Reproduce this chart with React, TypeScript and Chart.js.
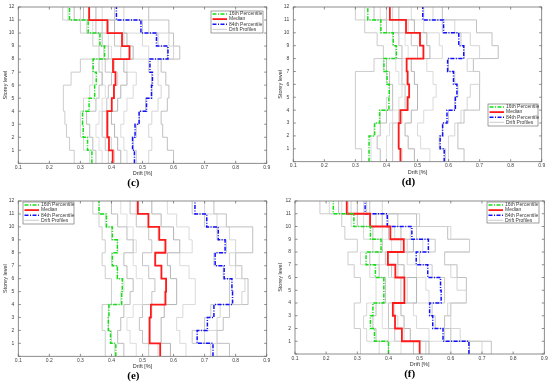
import React, { useEffect, useRef } from 'react';
import { Chart, registerables } from 'chart.js';

Chart.register(...registerables);
Chart.defaults.font.family = '"Liberation Sans", Arial, sans-serif';

// ---------- data ----------
const levels = [0, 1, 2, 3, 4, 5, 6, 7, 8, 9, 10, 11, 12];
const yTickLabels = ['', '1', '2', '3', '4', '5', '6', '7', '8', '9', '10', '11', '12'];
const seriesNames = ['16th Percentile', 'Median', '84th Percentile', 'Drift Profiles'];
const panelLabels = ['(c)', '(d)', '(e)', '(f)'];
const xAxisTitle = 'Drift [%]';
const yAxisTitle = 'Storey level';

// values listed from storey 1 (bottom) to storey 12 (top)
const c16 = [0.337, 0.323, 0.309, 0.307, 0.328, 0.346, 0.351, 0.341, 0.378, 0.363, 0.325, 0.265];
const c50 = [0.404, 0.392, 0.387, 0.386, 0.401, 0.408, 0.413, 0.405, 0.458, 0.434, 0.387, 0.328];
const c84 = [0.474, 0.468, 0.476, 0.489, 0.513, 0.529, 0.532, 0.524, 0.582, 0.545, 0.495, 0.416];
const cProfiles = [
  [0.28, 0.265, 0.255, 0.25, 0.245, 0.245, 0.27, 0.30, 0.36, 0.34, 0.30, 0.243],
  [0.33, 0.31, 0.30, 0.30, 0.31, 0.33, 0.34, 0.34, 0.375, 0.36, 0.32, 0.26],
  [0.35, 0.34, 0.33, 0.32, 0.35, 0.36, 0.37, 0.36, 0.39, 0.37, 0.35, 0.28],
  [0.37, 0.36, 0.35, 0.36, 0.37, 0.38, 0.37, 0.37, 0.40, 0.39, 0.34, 0.30],
  [0.39, 0.38, 0.37, 0.37, 0.385, 0.39, 0.40, 0.38, 0.43, 0.41, 0.37, 0.31],
  [0.41, 0.40, 0.39, 0.39, 0.40, 0.41, 0.42, 0.41, 0.46, 0.44, 0.39, 0.33],
  [0.43, 0.42, 0.41, 0.40, 0.42, 0.43, 0.45, 0.44, 0.47, 0.45, 0.41, 0.35],
  [0.45, 0.44, 0.43, 0.44, 0.45, 0.47, 0.48, 0.45, 0.52, 0.50, 0.44, 0.37],
  [0.48, 0.47, 0.48, 0.49, 0.51, 0.53, 0.53, 0.52, 0.58, 0.55, 0.50, 0.41],
  [0.52, 0.53, 0.52, 0.53, 0.55, 0.56, 0.55, 0.55, 0.60, 0.585, 0.52, 0.44],
  [0.60, 0.58, 0.565, 0.56, 0.58, 0.585, 0.575, 0.56, 0.62, 0.60, 0.585, 0.52],
];

const d16 = [0.344, 0.344, 0.362, 0.378, 0.408, 0.409, 0.402, 0.392, 0.432, 0.422, 0.382, 0.34];
const d50 = [0.445, 0.438, 0.44, 0.445, 0.468, 0.473, 0.468, 0.465, 0.519, 0.508, 0.463, 0.411];
const d84 = [0.586, 0.573, 0.581, 0.595, 0.622, 0.627, 0.616, 0.597, 0.649, 0.633, 0.584, 0.517];
const dProfiles = [
  [0.32, 0.30, 0.30, 0.30, 0.30, 0.30, 0.30, 0.36, 0.39, 0.37, 0.33, 0.30],
  [0.35, 0.35, 0.36, 0.38, 0.40, 0.41, 0.40, 0.39, 0.43, 0.42, 0.38, 0.33],
  [0.38, 0.37, 0.38, 0.40, 0.42, 0.42, 0.41, 0.40, 0.45, 0.44, 0.40, 0.36],
  [0.40, 0.40, 0.41, 0.42, 0.44, 0.45, 0.44, 0.43, 0.47, 0.46, 0.42, 0.38],
  [0.42, 0.42, 0.42, 0.44, 0.46, 0.46, 0.45, 0.45, 0.50, 0.48, 0.44, 0.40],
  [0.45, 0.44, 0.44, 0.45, 0.47, 0.475, 0.47, 0.465, 0.52, 0.51, 0.47, 0.42],
  [0.49, 0.47, 0.46, 0.48, 0.50, 0.50, 0.49, 0.48, 0.54, 0.53, 0.49, 0.44],
  [0.54, 0.51, 0.50, 0.52, 0.55, 0.56, 0.55, 0.53, 0.58, 0.57, 0.52, 0.48],
  [0.59, 0.57, 0.58, 0.60, 0.62, 0.63, 0.62, 0.60, 0.65, 0.64, 0.58, 0.52],
  [0.60, 0.60, 0.62, 0.64, 0.66, 0.67, 0.70, 0.66, 0.70, 0.67, 0.62, 0.55],
  [0.65, 0.63, 0.63, 0.65, 0.70, 0.70, 0.70, 0.68, 0.76, 0.74, 0.69, 0.58],
];

const e16 = [0.414, 0.397, 0.39, 0.392, 0.433, 0.435, 0.419, 0.403, 0.419, 0.403, 0.384, 0.36];
const e50 = [0.557, 0.523, 0.523, 0.527, 0.574, 0.576, 0.561, 0.541, 0.574, 0.554, 0.519, 0.485];
const e84 = [0.727, 0.676, 0.709, 0.73, 0.79, 0.788, 0.763, 0.734, 0.766, 0.744, 0.707, 0.669];
const eProfiles = [
  [0.38, 0.38, 0.37, 0.37, 0.40, 0.40, 0.38, 0.37, 0.38, 0.37, 0.36, 0.34],
  [0.41, 0.40, 0.39, 0.39, 0.43, 0.44, 0.42, 0.40, 0.42, 0.40, 0.38, 0.36],
  [0.44, 0.42, 0.43, 0.44, 0.46, 0.47, 0.45, 0.44, 0.47, 0.45, 0.42, 0.40],
  [0.48, 0.46, 0.45, 0.47, 0.50, 0.50, 0.48, 0.47, 0.48, 0.47, 0.45, 0.43],
  [0.52, 0.50, 0.49, 0.50, 0.53, 0.54, 0.52, 0.50, 0.53, 0.52, 0.48, 0.46],
  [0.55, 0.52, 0.52, 0.53, 0.57, 0.575, 0.56, 0.54, 0.57, 0.55, 0.52, 0.48],
  [0.59, 0.56, 0.56, 0.57, 0.61, 0.61, 0.59, 0.58, 0.62, 0.60, 0.56, 0.53],
  [0.64, 0.62, 0.61, 0.63, 0.67, 0.67, 0.65, 0.62, 0.66, 0.65, 0.61, 0.58],
  [0.72, 0.66, 0.70, 0.72, 0.78, 0.78, 0.76, 0.73, 0.77, 0.74, 0.70, 0.66],
  [0.74, 0.70, 0.74, 0.75, 0.82, 0.83, 0.80, 0.78, 0.80, 0.78, 0.74, 0.70],
  [0.78, 0.74, 0.76, 0.78, 0.84, 0.84, 0.82, 0.80, 0.855, 0.855, 0.77, 0.73],
];

const f16 = [0.40, 0.355, 0.342, 0.35, 0.385, 0.385, 0.358, 0.328, 0.376, 0.342, 0.289, 0.223];
const f50 = [0.50, 0.443, 0.421, 0.414, 0.451, 0.451, 0.422, 0.398, 0.449, 0.406, 0.341, 0.266];
const f84 = [0.658, 0.575, 0.542, 0.532, 0.569, 0.567, 0.526, 0.489, 0.528, 0.475, 0.396, 0.325];
const fProfiles = [
  [0.31, 0.31, 0.29, 0.29, 0.31, 0.31, 0.29, 0.27, 0.30, 0.26, 0.25, 0.18],
  [0.37, 0.33, 0.32, 0.33, 0.36, 0.36, 0.34, 0.31, 0.35, 0.32, 0.28, 0.21],
  [0.40, 0.36, 0.35, 0.36, 0.39, 0.39, 0.37, 0.34, 0.38, 0.35, 0.30, 0.24],
  [0.44, 0.40, 0.38, 0.38, 0.42, 0.42, 0.40, 0.37, 0.41, 0.38, 0.32, 0.25],
  [0.48, 0.42, 0.40, 0.40, 0.44, 0.44, 0.41, 0.39, 0.44, 0.40, 0.34, 0.27],
  [0.52, 0.45, 0.43, 0.42, 0.46, 0.46, 0.43, 0.40, 0.46, 0.42, 0.36, 0.28],
  [0.53, 0.47, 0.45, 0.44, 0.49, 0.49, 0.45, 0.43, 0.48, 0.44, 0.38, 0.30],
  [0.60, 0.53, 0.49, 0.48, 0.53, 0.52, 0.49, 0.46, 0.51, 0.47, 0.40, 0.32],
  [0.66, 0.58, 0.55, 0.54, 0.58, 0.58, 0.54, 0.50, 0.55, 0.49, 0.43, 0.34],
  [0.70, 0.63, 0.60, 0.59, 0.65, 0.62, 0.60, 0.58, 0.66, 0.60, 0.50, 0.38],
  [0.73, 0.60, 0.58, 0.60, 0.65, 0.65, 0.62, 0.58, 0.66, 0.59, 0.49, 0.33],
];

// ---------- layout / style ----------
const W = 275;
const H = 194;
const grayShades = ['#c6c6c6', '#d4d4d4', '#b6b6b6', '#dadada', '#bdbdbd', '#cecece', '#adadad', '#d6d6d6', '#c1c1c1', '#d0d0d0', '#b9b9b9'];

const panels = [
  { label: panelLabels[0], p16: c16, p50: c50, p84: c84, gray: cProfiles, x: 0, y: 0,
    area: { l: 18.3, r: 266.7, t: 5.7, b: 163.3 }, titleY: 183, legend: { x: 211, y: 11, w: 52, h: 22 } },
  { label: panelLabels[1], p16: d16, p50: d50, p84: d84, gray: dProfiles, x: 275, y: 0,
    area: { l: 18.3, r: 266.7, t: 5.7, b: 161.7 }, titleY: 182, legend: { x: 213, y: 104, w: 50, h: 22 } },
  { label: panelLabels[2], p16: e16, p50: e50, p84: e84, gray: eProfiles, x: 0, y: 194,
    area: { l: 18.3, r: 266.7, t: 3.3, b: 162.3 }, titleY: 182, legend: { x: 23, y: 8, w: 51, h: 22 } },
  { label: panelLabels[3], p16: f16, p50: f50, p84: f84, gray: fProfiles, x: 275, y: 194,
    area: { l: 20, r: 269.3, t: 3.3, b: 160 }, titleY: 180, legend: { x: 212, y: 8, w: 52, h: 21 } },
];

function steps(vals: number[]) {
  const pts: { x: number; y: number }[] = [];
  vals.forEach((v, i) => {
    pts.push({ x: v, y: levels[i] }, { x: v, y: levels[i + 1] });
  });
  return pts;
}

function makeFramePlugin(legendBox: { x: number; y: number; w: number; h: number }) {
  return {
    id: 'matlabFrame',
    afterDatasetsDraw(chart: any) {
      const { ctx, chartArea: a, scales } = chart;
      ctx.save();
      ctx.strokeStyle = '#707070';
      ctx.lineWidth = 0.8;
      ctx.setLineDash([]);
      ctx.strokeRect(a.left, a.top, a.right - a.left, a.bottom - a.top);
      const tl = 2.5;
      ctx.beginPath();
      scales.x.ticks.forEach((t: any) => {
        const px = scales.x.getPixelForValue(t.value);
        ctx.moveTo(px, a.bottom);
        ctx.lineTo(px, a.bottom - tl);
        ctx.moveTo(px, a.top);
        ctx.lineTo(px, a.top + tl);
      });
      scales.y.ticks.forEach((t: any) => {
        const py = scales.y.getPixelForValue(t.value);
        ctx.moveTo(a.left, py);
        ctx.lineTo(a.left + tl, py);
        ctx.moveTo(a.right, py);
        ctx.lineTo(a.right - tl, py);
      });
      ctx.stroke();
      ctx.restore();
    },
    afterDraw(chart: any) {
      const { ctx } = chart;
      const ds = chart.data.datasets;
      const b = legendBox;
      ctx.save();
      ctx.fillStyle = '#ffffff';
      ctx.fillRect(b.x, b.y, b.w, b.h);
      ctx.strokeStyle = '#606060';
      ctx.lineWidth = 0.6;
      ctx.setLineDash([]);
      ctx.strokeRect(b.x, b.y, b.w, b.h);
      ctx.font = '5px "Liberation Sans", Arial, sans-serif';
      ctx.textBaseline = 'middle';
      ctx.textAlign = 'left';
      for (let k = 0; k < 4; k++) {
        const d = ds[k];
        const yy = b.y + 3 + k * 5.1;
        ctx.beginPath();
        ctx.strokeStyle = d.borderColor;
        ctx.lineWidth = d.borderWidth;
        ctx.setLineDash(d.borderDash || []);
        ctx.moveTo(b.x + 1.5, yy);
        ctx.lineTo(b.x + 16, yy);
        ctx.stroke();
        ctx.fillStyle = '#3a3a3a';
        ctx.fillText(d.label, b.x + 18, yy);
      }
      ctx.restore();
    },
  };
}

function Panel({ spec }: { spec: any }) {
  const ref = useRef<HTMLCanvasElement | null>(null);
  useEffect(() => {
    if (!ref.current) return;
    const pb = H - spec.titleY - 5.5;
    const xh = H - pb - 11 - spec.area.b;
    const datasets: any[] = [
      { label: seriesNames[0], data: steps(spec.p16), borderColor: '#12e012', borderWidth: 1.5, borderDash: [4, 1.5, 1, 1.5] },
      { label: seriesNames[1], data: steps(spec.p50), borderColor: '#ff1a1a', borderWidth: 1.8 },
      { label: seriesNames[2], data: steps(spec.p84), borderColor: '#1010ff', borderWidth: 1.5, borderDash: [4, 1.5, 1, 1.5] },
      ...spec.gray.map((g: number[], i: number) => ({
        label: seriesNames[3], data: steps(g), borderColor: grayShades[i % grayShades.length], borderWidth: 0.9,
      })),
    ].map((d) => ({ ...d, pointRadius: 0, fill: false, tension: 0 }));

    const chart = new Chart(ref.current, {
      type: 'line',
      data: { datasets },
      options: {
        responsive: false,
        animation: false,
        events: [],
        layout: { padding: { top: spec.area.t, right: W - spec.area.r, bottom: pb, left: 0 } },
        plugins: {
          legend: { display: false },
          tooltip: { enabled: false },
          title: {
            display: true,
            text: spec.label,
            position: 'bottom',
            padding: 0,
            color: '#000',
            font: { family: '"Liberation Serif", "DejaVu Serif", serif', size: 11, weight: 'bold', lineHeight: 1 },
          },
        },
        scales: {
          x: {
            type: 'linear',
            min: 0.1,
            max: 0.9,
            grid: { display: false, drawTicks: false },
            border: { display: false },
            ticks: {
              stepSize: 0.1, padding: 1.2, maxRotation: 0, autoSkip: false, color: '#404040',
              font: { size: 5 }, callback: (v: any) => Number(v).toFixed(1),
            },
            title: { display: true, text: xAxisTitle, color: '#303030', font: { size: 5.5, lineHeight: 1.2 }, padding: { top: 0, bottom: 0.6 } },
            afterFit: (s: any) => { s.height = xh; },
          },
          y: {
            type: 'linear',
            min: 0,
            max: 12,
            grid: { display: false, drawTicks: false },
            border: { display: false },
            ticks: {
              stepSize: 1, padding: 4, autoSkip: false, color: '#404040',
              font: { size: 5 }, callback: (v: any) => yTickLabels[Math.round(Number(v))],
            },
            title: { display: true, text: yAxisTitle, color: '#303030', font: { size: 5.5, lineHeight: 1.2 }, padding: { top: 2.4, bottom: 0 } },
            afterFit: (s: any) => { s.width = spec.area.l; },
          },
        },
      },
      plugins: [makeFramePlugin(spec.legend)],
    } as any);
    return () => chart.destroy();
  }, []);
  return (
    <div style={{ position: 'absolute', left: spec.x, top: spec.y, width: W, height: H }}>
      <canvas ref={ref} width={W} height={H} style={{ display: 'block', width: W, height: H }} />
    </div>
  );
}

export default function App() {
  return (
    <div style={{ position: 'absolute', left: 0, top: 0, width: 550, height: 388, background: '#ffffff', overflow: 'hidden' }}>
      {panels.map((p) => (
        <Panel key={p.label} spec={p} />
      ))}
    </div>
  );
}
